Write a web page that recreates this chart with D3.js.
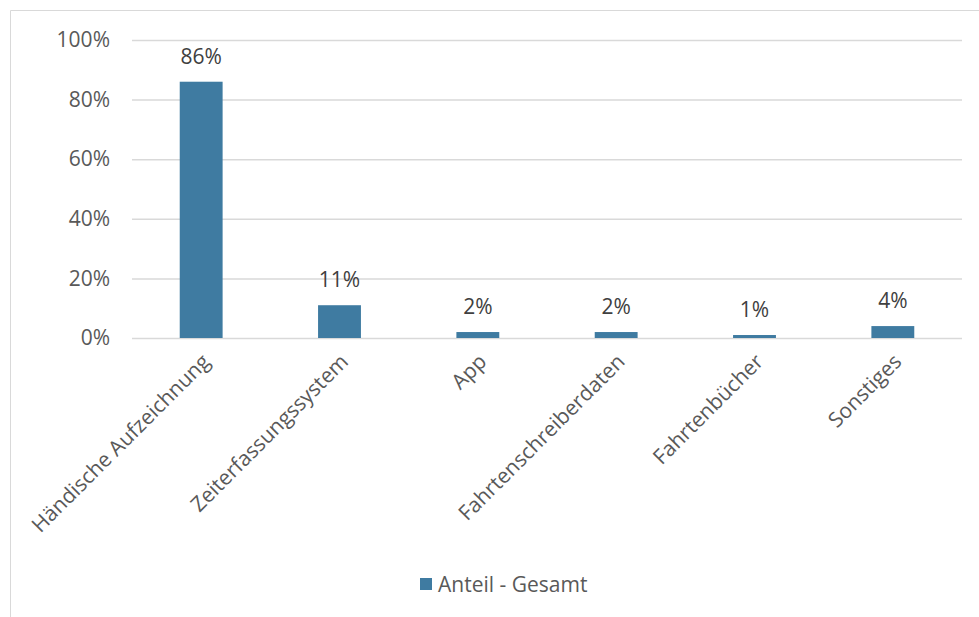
<!DOCTYPE html>
<html><head><meta charset="utf-8">
<script src="https://cdn.jsdelivr.net/npm/d3@7/dist/d3.min.js"></script>
<style>body{margin:0;background:#fff;} text{font-family:"Open Sans",sans-serif;}</style>
</head><body><svg id="c" width="979" height="617"></svg>
<script>
const categories = ["Händische Aufzeichnung","Zeiterfassungssystem","App","Fahrtenschreiberdaten","Fahrtenbücher","Sonstiges"];
const values = [86, 11, 2, 2, 1, 4];
const yTicks = [0, 20, 40, 60, 80, 100];
const seriesName = "Anteil - Gesamt";

const svg = d3.select("#c");
const m = {left:132, right:962, top:40, bottom:338};
const color = "#3f7ba1";
const FF = "'Open Sans', sans-serif";

svg.append("path").attr("d","M10.5,617 L10.5,10.5 L979,10.5").attr("fill","none").attr("stroke","#d9d9d9").attr("stroke-width",1);

const x = d3.scaleBand().domain(categories).range([m.left, m.right]).paddingInner(0.69).paddingOuter(0.345);
const y = d3.scaleLinear().domain([0,100]).range([m.bottom, m.top]);

const yAxis = svg.append("g").attr("transform",`translate(${m.left},0)`)
  .call(d3.axisLeft(y).tickValues(yTicks).tickFormat(d=>d+"%").tickSize(-(m.right-m.left)).tickPadding(22));
yAxis.select(".domain").remove();
yAxis.selectAll("line").attr("stroke","#d9d9d9").attr("stroke-width",1.5);
yAxis.selectAll("text").attr("fill","#595959").style("font-size","21px").style("font-family",FF);

svg.selectAll("rect.bar").data(values).enter().append("rect")
  .attr("x",(d,i)=>x(categories[i])).attr("width",x.bandwidth())
  .attr("y",d=>y(d)).attr("height",d=>y(0)-y(d)).attr("fill",color);

svg.selectAll("text.lab").data(values).enter().append("text")
  .attr("x",(d,i)=>x(categories[i])+x.bandwidth()/2).attr("y",d=>y(d)-18)
  .attr("text-anchor","middle").attr("fill","#404040").style("font-size","21px").style("font-family",FF).text(d=>d+"%");

const xAxis = svg.append("g").attr("transform",`translate(0,${m.bottom})`)
  .call(d3.axisBottom(x).tickSize(0).tickPadding(0));
xAxis.select(".domain").remove();
xAxis.selectAll("text").attr("fill","#595959").style("font-size","21px")
  .style("font-family",FF)
  .attr("text-anchor","end").attr("dy",0)
  .attr("transform","translate(10,25) rotate(-45)");

const lg = svg.append("g");
lg.append("rect").attr("x",420).attr("y",578).attr("width",12).attr("height",12).attr("fill",color);
lg.append("text").attr("x",438).attr("y",592).attr("fill","#595959").style("font-size","21px").style("font-family",FF).text(seriesName);
</script></body></html>
